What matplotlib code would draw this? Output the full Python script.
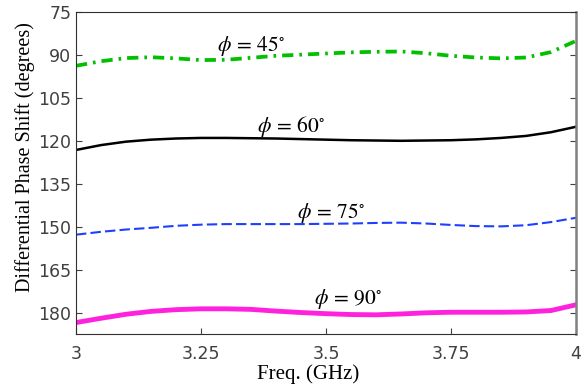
import numpy as np
import matplotlib.pyplot as plt

plt.rcParams['mathtext.fontset'] = 'stix'

freq = [3.0, 3.05, 3.1, 3.15, 3.2, 3.25, 3.3, 3.35, 3.4, 3.45, 3.5, 3.55, 3.6,
        3.65, 3.7, 3.75, 3.8, 3.85, 3.9, 3.95, 4.0]
phase_45 = [93.8, 92.2, 91.1, 90.8, 91.2, 91.8, 91.7, 91.0, 90.3, 89.9, 89.5, 89.1, 88.9,
            88.8, 89.4, 90.3, 90.9, 91.2, 90.9, 89.0, 85.1]
phase_60 = [123.2, 121.5, 120.3, 119.6, 119.2, 119.0, 119.0, 119.1, 119.2, 119.4, 119.6, 119.8, 119.9,
            120.0, 119.9, 119.8, 119.5, 119.0, 118.3, 117.0, 115.1]
phase_75 = [152.8, 151.8, 151.0, 150.4, 149.7, 149.3, 149.1, 149.1, 149.1, 149.1, 149.0, 148.9, 148.7,
            148.6, 148.9, 149.4, 149.8, 149.9, 149.5, 148.4, 146.9]
phase_90 = [183.5, 182.0, 180.6, 179.6, 179.0, 178.7, 178.7, 178.9, 179.5, 180.0, 180.4, 180.7, 180.8,
            180.5, 180.1, 179.9, 179.9, 179.9, 179.8, 179.3, 177.3]

label_text = [r'$\phi\,=\,45^{\circ}$', r'$\phi\,=\,60^{\circ}$', r'$\phi\,=\,75^{\circ}$', r'$\phi\,=\,90^{\circ}$']
label_x = [3.35, 3.43, 3.51, 3.545]
label_y = [87.0, 115.0, 145.2, 175.2]

xticks = [3, 3.25, 3.5, 3.75, 4]
xticklabels = ['3', '3.25', '3.5', '3.75', '4']
yticks = [75, 90, 105, 120, 135, 150, 165, 180]

fig = plt.figure(figsize=(5.87, 3.85), dpi=100)
ax = fig.add_axes([76 / 587, 1 - 334 / 385, 500 / 587, 322 / 385])

ax.plot(freq, phase_45, color='#00c000', lw=2.7, linestyle=(0, (3, 1.6, 0.7, 1.6)))
ax.plot(freq, phase_60, color='black', lw=1.8)
ax.plot(freq, phase_75, color='#1f3fff', lw=1.5, linestyle=(0, (5, 2)))
ax.plot(freq, phase_90, color='#ff22dd', lw=3.5)

for t, x, y in zip(label_text, label_x, label_y):
    ax.text(x, y, t, fontsize=15.5, ha='center', va='center')

ax.set_xlim(3, 4)
ax.set_ylim(187.5, 75)
ax.set_xticks(xticks)
ax.set_xticklabels(xticklabels)
ax.set_yticks(yticks)
ax.tick_params(direction='in', length=4, labelsize=12.5, labelcolor='#404040',
               right=True, color='#404040')
ax.tick_params(axis='x', pad=8)
for s in ax.spines.values():
    s.set_color('#303030')
ax.spines['right'].set_color('#808080')
ax.spines['right'].set_linewidth(1.8)

ax.set_xlabel('Freq. (GHz)', fontfamily='Liberation Serif', fontsize=15, labelpad=1)
ax.xaxis.set_label_coords(0.464, -0.095)
ax.set_ylabel('Differential Phase Shift (degrees)', fontfamily='Liberation Serif', fontsize=14.5, labelpad=3)
ax.yaxis.set_label_coords(-0.082, 0.55)

fig.savefig('out.png', dpi=100)
